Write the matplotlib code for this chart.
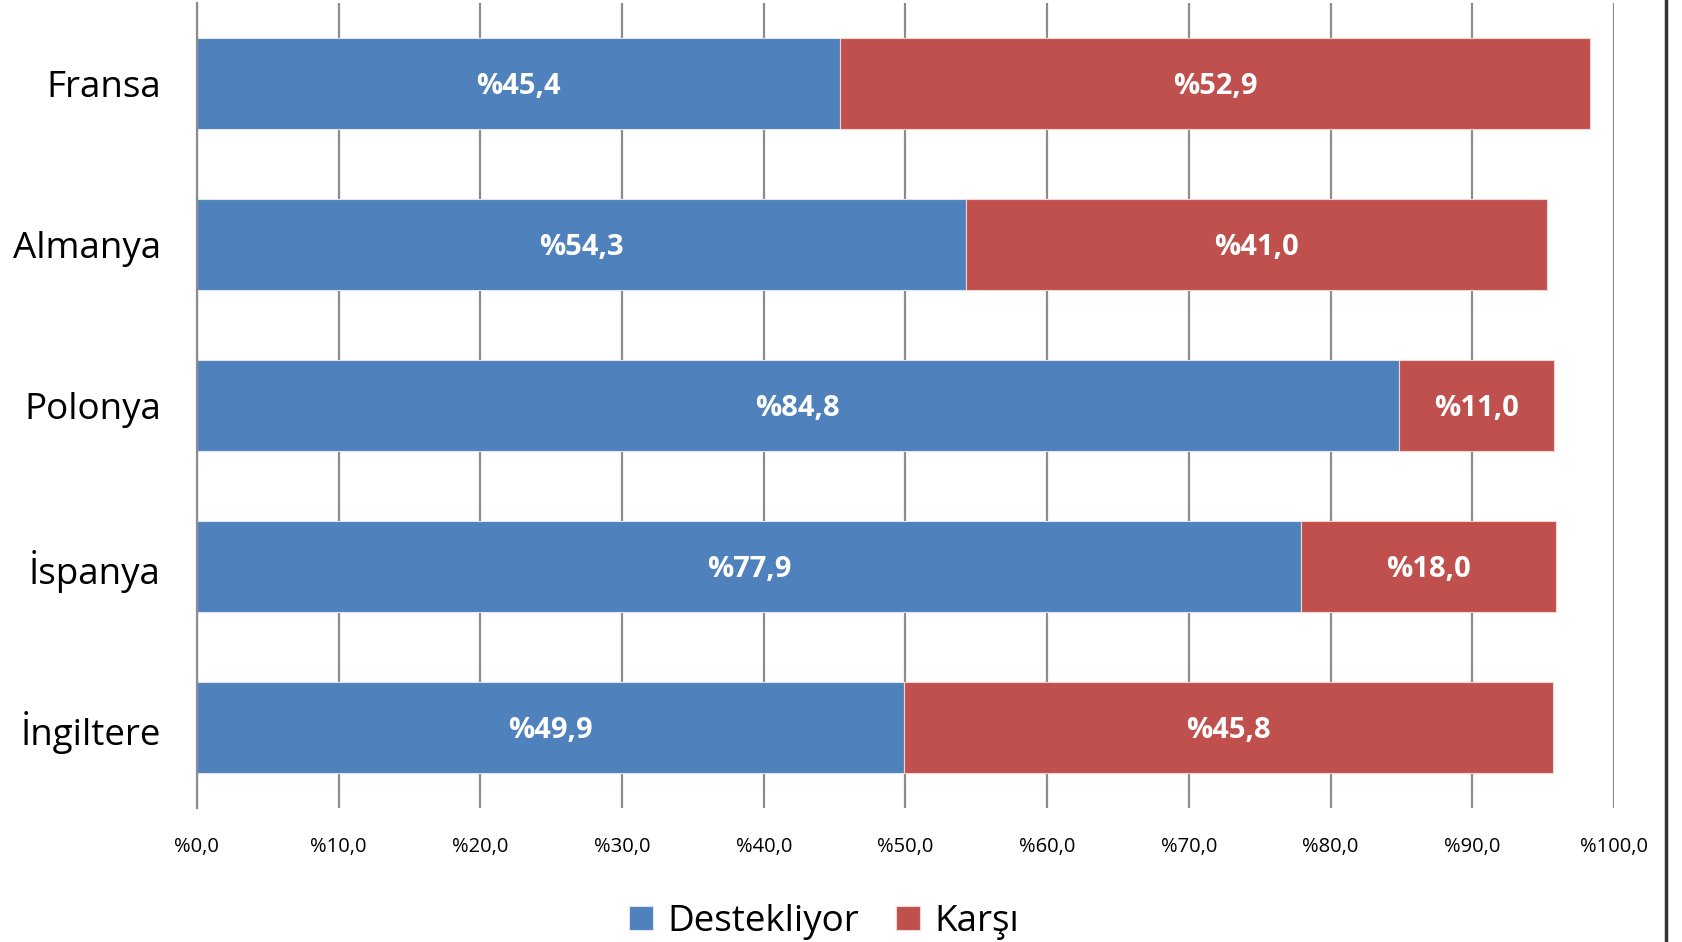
import matplotlib
matplotlib.use("Agg")
import matplotlib.pyplot as plt
from matplotlib.lines import Line2D
import numpy as np

plt.rcParams['font.family'] = ['Open Sans', 'DejaVu Sans']

# data
countries = ["Fransa", "Almanya", "Polonya", "İspanya", "İngiltere"]
destekliyor = [45.4, 54.3, 84.8, 77.9, 49.9]
karsi = [52.9, 41.0, 11.0, 18.0, 45.8]
ticks = [0, 10, 20, 30, 40, 50, 60, 70, 80, 90, 100]

blue = "#4F81BD"
red = "#C0504D"

fig = plt.figure(figsize=(16.83, 9.42), dpi=100)
ax = fig.add_axes([0.117, 0.142, 0.842, 0.855])

y = np.arange(len(countries))
b1 = ax.barh(y, destekliyor, height=0.565, color=blue, edgecolor="#dfe6f0",
             linewidth=0.8, label="Destekliyor", zorder=3)
b2 = ax.barh(y, karsi, left=destekliyor, height=0.565, color=red,
             edgecolor="#efd6d5", linewidth=0.8, label="Karşı", zorder=3)

# value labels in the middle of each segment
for i in range(len(countries)):
    ax.text(destekliyor[i] / 2, y[i] + 0.02, "%" + f"{destekliyor[i]:.1f}".replace(".", ","),
            ha="center", va="center", color="white", fontsize=21, fontweight="bold", zorder=4)
    ax.text(destekliyor[i] + karsi[i] / 2, y[i] + 0.02, "%" + f"{karsi[i]:.1f}".replace(".", ","),
            ha="center", va="center", color="white", fontsize=21, fontweight="bold", zorder=4)

ax.set_xlim(0, 100)
ax.set_ylim(len(countries) - 0.5, -0.5)
ax.set_xticks(ticks)
ax.set_xticklabels(["%" + f"{t:.1f}".replace(".", ",") for t in ticks], fontsize=14.5)
ax.set_yticks(y)
ax.set_yticklabels(countries, fontsize=26.5)

ax.grid(axis="x", color="#8c8c8c", linewidth=1.6, zorder=0)
for s in ["top", "right", "bottom"]:
    ax.spines[s].set_visible(False)
ax.spines["left"].set_color("#8c8c8c")
ax.spines["left"].set_linewidth(1.6)
ax.spines["left"].set_zorder(5)
ax.tick_params(axis="x", length=0, pad=21)
ax.tick_params(axis="y", length=0, pad=26)

fig.legend(handles=[b1, b2], loc="center", bbox_to_anchor=(824 / 1683, 1 - 922 / 942),
           ncol=2, frameon=False, fontsize=26.5, handlelength=0.65, handleheight=0.65,
           handletextpad=0.4, columnspacing=1.0)

# dark frame edge on the right side
fig.add_artist(Line2D([1666 / 1683, 1666 / 1683], [0, 1], color="#333333", linewidth=2.5))

fig.savefig("out.png", dpi=100)
